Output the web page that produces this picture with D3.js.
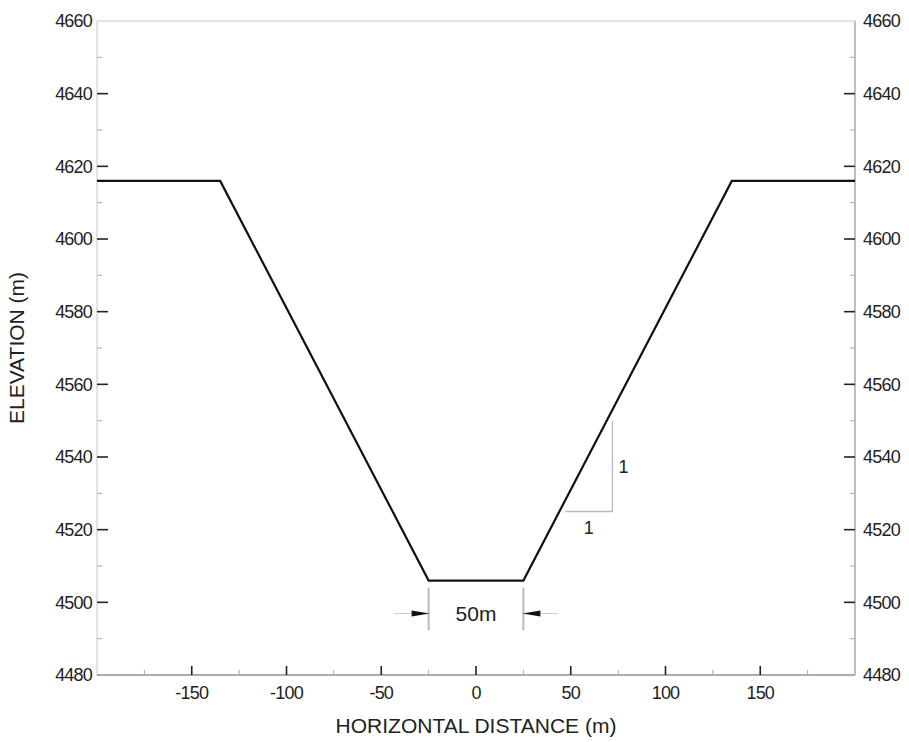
<!DOCTYPE html>
<html>
<head>
<meta charset="utf-8">
<script src="https://cdn.jsdelivr.net/npm/d3@7"></script>
<style>
  body { margin: 0; background: #fff; }
  text { font-family: "Liberation Sans", Arial, sans-serif; fill: #222; }
</style>
</head>
<body>
<svg width="909" height="742"></svg>
<script>
// profile vertices
var distance = [-200, -135, -25, 25, 135, 200],
    elevation = [4616, 4616, 4506, 4506, 4616, 4616];

var xTicks = [-150, -100, -50, 0, 50, 100, 150],
    yTicks = [4480, 4500, 4520, 4540, 4560, 4580, 4600, 4620, 4640, 4660];

// slope marker (run 1 : rise 1) and bottom width dimension
var slopeRun = [47, 72], slopeRise = [4525, 4550];
var dimEnds = [-25, 25], dimLabel = "50m";

var svg = d3.select("svg"),
    margin = {top: 21, right: 54, bottom: 67, left: 97},
    width = +svg.attr("width") - margin.left - margin.right,
    height = +svg.attr("height") - margin.top - margin.bottom;

var x = d3.scaleLinear().domain([-200, 200]).range([0, width]),
    y = d3.scaleLinear().domain([4480, 4660]).range([height, 0]);

var g = svg.append("g")
    .attr("transform", "translate(" + margin.left + "," + margin.top + ")");

// frame
g.append("rect")
    .attr("width", width).attr("height", height)
    .attr("fill", "none").attr("stroke", "#c8c8c8").attr("stroke-width", 1);
g.append("line")
    .attr("x1", 0).attr("x2", width).attr("y1", height).attr("y2", height)
    .attr("stroke", "#777");
g.append("line")
    .attr("x1", width).attr("x2", width).attr("y1", 0).attr("y2", height)
    .attr("stroke", "#999");

// minor ticks
var xMinor = d3.range(-175, 200, 50),
    yMinor = d3.range(4490, 4660, 20);

g.selectAll(".xminor").data(xMinor).enter().append("line")
    .attr("x1", function(d) { return x(d); }).attr("x2", function(d) { return x(d); })
    .attr("y1", height).attr("y2", height - 5)
    .attr("stroke", "#aaa");
g.selectAll(".xmajor").data(xTicks).enter().append("line")
    .attr("x1", function(d) { return x(d); }).attr("x2", function(d) { return x(d); })
    .attr("y1", height).attr("y2", height - 9)
    .attr("stroke", "#222").attr("stroke-width", 1.6);

[0, width].forEach(function(px, i) {
  var dir = i === 0 ? 1 : -1;
  g.selectAll(".ymin" + i).data(yMinor).enter().append("line")
      .attr("x1", px).attr("x2", px + dir * 5)
      .attr("y1", function(d) { return y(d); }).attr("y2", function(d) { return y(d); })
      .attr("stroke", "#aaa");
  g.selectAll(".ymaj" + i).data(yTicks.slice(1, -1)).enter().append("line")
      .attr("x1", px).attr("x2", px + dir * 11)
      .attr("y1", function(d) { return y(d); }).attr("y2", function(d) { return y(d); })
      .attr("stroke", "#222").attr("stroke-width", 1.6);
  g.selectAll(".ylab" + i).data(yTicks).enter().append("text")
      .attr("x", i === 0 ? -5 : width + 8)
      .attr("y", function(d) { return y(d); })
      .attr("dy", "0.36em")
      .attr("text-anchor", i === 0 ? "end" : "start")
      .attr("font-size", 18)
      .attr("letter-spacing", -0.8)
      .text(function(d) { return d; });
});

g.selectAll(".xlab").data(xTicks).enter().append("text")
    .attr("x", function(d) { return x(d); })
    .attr("y", height + 24)
    .attr("text-anchor", "middle")
    .attr("font-size", 18)
    .attr("letter-spacing", -0.8)
    .text(function(d) { return d; });

// axis titles
g.append("text")
    .attr("x", width / 2).attr("y", height + 58)
    .attr("text-anchor", "middle").attr("font-size", 21)
    .text("HORIZONTAL DISTANCE (m)");
g.append("text")
    .attr("transform", "translate(" + (-73) + "," + (height / 2) + ") rotate(-90)")
    .attr("text-anchor", "middle").attr("font-size", 21)
    .text("ELEVATION (m)");

// profile
var pts = distance.map(function(d, i) { return [d, elevation[i]]; });
g.append("path")
    .datum(pts)
    .attr("fill", "none").attr("stroke", "#111").attr("stroke-width", 2.2)
    .attr("stroke-linejoin", "miter")
    .attr("d", d3.line().x(function(d) { return x(d[0]); }).y(function(d) { return y(d[1]); }));

// slope triangle
g.append("path")
    .attr("fill", "none").attr("stroke", "#bbb").attr("stroke-width", 1.3)
    .attr("d", "M" + x(slopeRun[0]) + "," + y(slopeRise[0]) +
               "H" + x(slopeRun[1]) + "V" + y(slopeRise[1]));
g.append("text")
    .attr("x", x(slopeRun[1]) + 11).attr("y", y((slopeRise[0] + slopeRise[1]) / 2))
    .attr("dy", "0.36em").attr("text-anchor", "middle").attr("font-size", 18)
    .text("1");
g.append("text")
    .attr("x", x((slopeRun[0] + slopeRun[1]) / 2)).attr("y", y(slopeRise[0]) + 22)
    .attr("text-anchor", "middle").attr("font-size", 18)
    .text("1");

// dimension: bottom width
var dimTop = y(elevation[2]) + 7, dimBot = y(elevation[2]) + 50, dimY = y(elevation[2]) + 33;
dimEnds.forEach(function(d, i) {
  var px = x(d), dir = i === 0 ? -1 : 1;
  g.append("line")
      .attr("x1", px).attr("x2", px).attr("y1", dimTop).attr("y2", dimBot)
      .attr("stroke", "#bbb").attr("stroke-width", 2);
  g.append("line")
      .attr("x1", px).attr("x2", px + dir * 35).attr("y1", dimY).attr("y2", dimY)
      .attr("stroke", "#ccc").attr("stroke-width", 1);
  g.append("path")
      .attr("fill", "#111")
      .attr("d", "M" + (px - dir * 1) + "," + dimY +
                 "L" + (px + dir * 17) + "," + (dimY - 3) +
                 "L" + (px + dir * 17) + "," + (dimY + 3) + "Z");
});
g.append("text")
    .attr("x", (x(dimEnds[0]) + x(dimEnds[1])) / 2).attr("y", dimY)
    .attr("dy", "0.36em").attr("text-anchor", "middle").attr("font-size", 21)
    .text(dimLabel);
</script>
</body>
</html>
